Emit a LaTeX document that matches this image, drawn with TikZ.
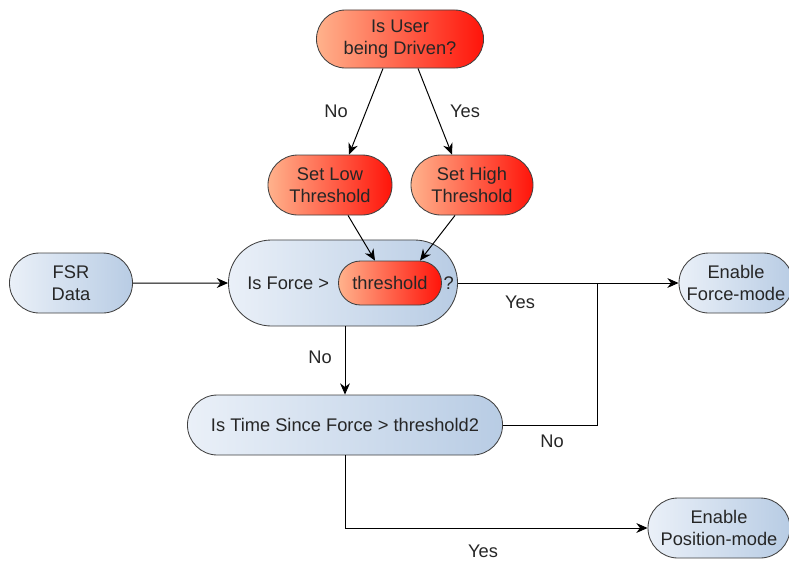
\documentclass[tikz,border=0pt]{standalone}
\usepackage{fontspec}
\setmainfont{Liberation Sans}
\usetikzlibrary{arrows.meta,positioning,shapes.misc}
\definecolor{rodlys}{RGB}{255,178,140}
\definecolor{rodmork}{RGB}{255,20,10}
\definecolor{blalys}{RGB}{234,240,248}
\definecolor{blamork}{RGB}{184,204,228}
\tikzset{
    >={Stealth[length=8pt,width=7pt]},
    boks/.style={
           rounded rectangle,
           draw=black!75, line width=0.6pt,
           inner sep=0pt,
           align=center,
           text=black!85,
           font=\fontsize{13}{15.5}\selectfont},
    rodboks/.style={
           boks,
           left color=rodlys,
           right color=rodmork},
    blaboks/.style={
           boks,
           left color=blalys,
           right color=blamork},
    etikett/.style={
           text=black!85,
           font=\fontsize{13}{15.5}\selectfont},
    pil/.style={
           ->,
           line width=0.7pt},
    linje/.style={
           line width=0.7pt}
}
\begin{document}
\begin{tikzpicture}[x=0.025cm, y=-0.025cm]
        \useasboundingbox (0,0) rectangle (789,562);
        \node[rodboks, minimum width=4.175cm, minimum height=1.45cm] (driven) at (400,39) {Is User\\being Driven?};
        \node[rodboks, minimum width=3.1cm, minimum height=1.5cm] (lav) at (330,185) {Set Low\\Threshold};
        \node[rodboks, minimum width=3.05cm, minimum height=1.5cm] (hoy) at (472,185) {Set High\\Threshold};
        \node[blaboks, minimum width=3.075cm, minimum height=1.5cm] (fsr) at (71,283) {FSR\\Data};
        \node[blaboks, minimum width=5.725cm, minimum height=2.15cm] (kraft) at (343,283) {};
        \node[rodboks, minimum width=2.575cm, minimum height=1.1cm] (grense) at (390,283) {threshold};
        \node[etikett, left=0.1cm of grense] (kraftxt) {Is Force >};
        \node[etikett, right=0pt of grense, inner sep=1pt] (sporsmal) {?};
        \node[blaboks, minimum width=2.85cm, minimum height=1.5cm] (kraftmodus) at (736,283) {Enable\\Force-mode};
        \node[blaboks, minimum width=7.875cm, minimum height=1.5cm] (tid) at (345,425) {Is Time Since Force > threshold2};
        \node[blaboks, minimum width=3.55cm, minimum height=1.5cm] (posmodus) at (719,528) {Enable\\Position-mode};
        \coordinate (knute) at (597,283);
        \coordinate (hjorne) at (345,528);

        \node[etikett] (nei1) at (336,111) {No};
        \node[etikett] (ja1) at (465,111) {Yes};
        \node[etikett] (ja2) at (520,302) {Yes};
        \node[etikett] (nei2) at (320,357) {No};
        \node[etikett] (nei3) at (552,441) {No};
        \node[etikett] (ja3) at (483,551) {Yes};

        \draw[pil] (driven.south) ++(-17,0) -- (lav.north -| 349,0);
        \draw[pil] (driven.south) ++(18,0) -- (hoy.north -| 452,0);
        \draw[pil] (lav.south -| 348,0) -- (grense.north -| 375,0);
        \draw[pil] (hoy.south -| 455,0) -- (grense.north -| 420,0);
        \draw[pil] (fsr) -- (kraft);
        \draw[pil] (kraft.east) -- (kraftmodus);
        \draw[pil] (kraft.south -| tid.north) -- (tid.north);
        \draw[linje] (tid.east) -| (knute);
        \draw[linje] (tid.south) -- (hjorne);
        \draw[pil] (hjorne) -- (posmodus);
    \end{tikzpicture}
\end{document}
